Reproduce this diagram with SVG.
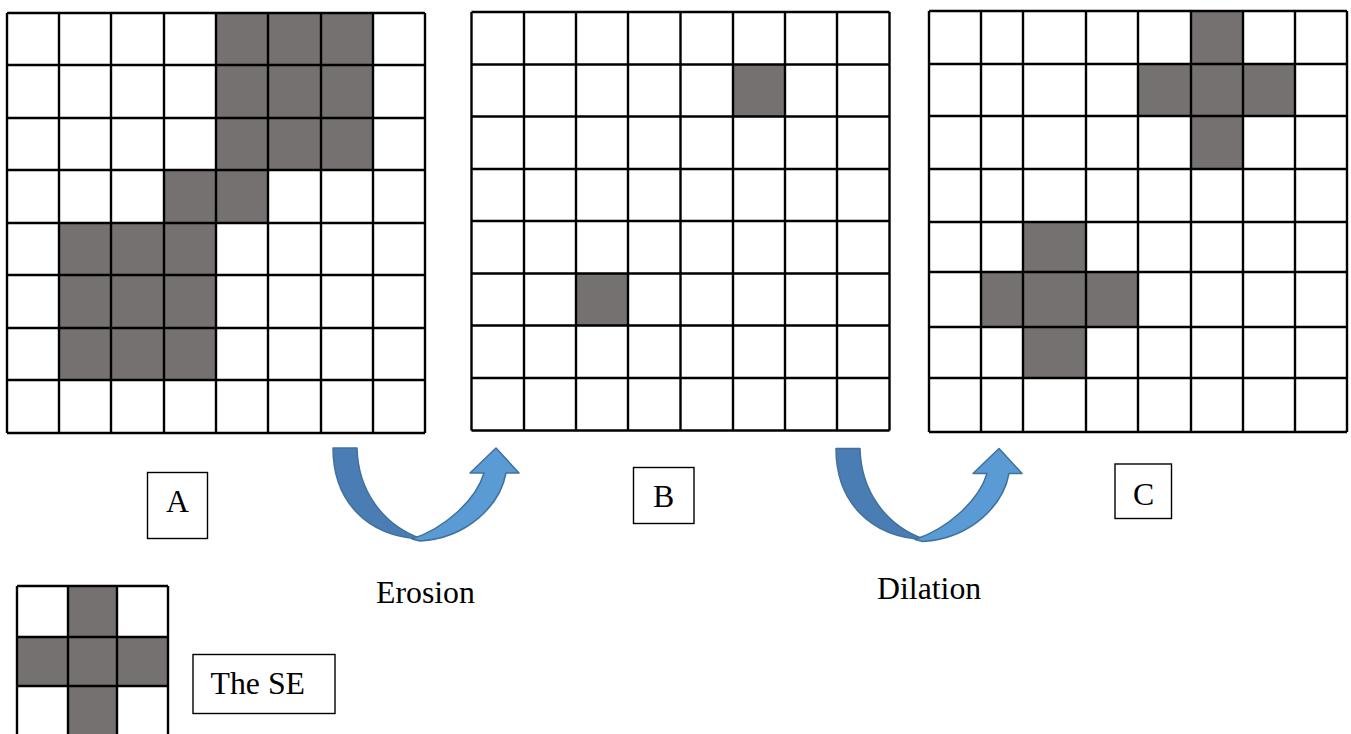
<svg xmlns="http://www.w3.org/2000/svg" width="1351" height="734" viewBox="0 0 1351 734">
<style>
.bg{fill:#ffffff}
.on{fill:#767171}
.grid{fill:none;stroke:#000;stroke-width:2.4}
.box{fill:#fff;stroke:#000;stroke-width:1.4}
.lbl{font-family:"Liberation Serif","Times New Roman",serif;font-size:31.8px;fill:#000}
.back{fill:#4A7DB4;stroke:#41719C;stroke-width:1.5;stroke-linejoin:round}
.front{fill:#5B9BD5;stroke:#41719C;stroke-width:1.5;stroke-linejoin:round}
</style>
<rect width="1351" height="734" fill="#fff"/>
<g id="gridA">
<rect class="bg" x="7" y="13" width="418" height="420"/>
<rect class="on" x="216" y="13" width="157" height="157"/>
<rect class="on" x="164" y="170" width="104" height="53"/>
<rect class="on" x="59" y="223" width="157" height="157"/>
<path class="grid" d="M7,13V433M59,13V433M111,13V433M164,13V433M216,13V433M268,13V433M321,13V433M373,13V433M425,13V433M7,13H425M7,65H425M7,118H425M7,170H425M7,223H425M7,275H425M7,328H425M7,380H425M7,433H425"/>
</g>
<g id="gridB">
<rect class="bg" x="471.5" y="12" width="418" height="418.5"/>
<rect class="on" x="733" y="64.5" width="52" height="52"/>
<rect class="on" x="576" y="273.5" width="52" height="52"/>
<path class="grid" d="M471.5,12V430.5M524,12V430.5M576,12V430.5M628,12V430.5M680.5,12V430.5M733,12V430.5M785,12V430.5M837,12V430.5M889.5,12V430.5M471.5,12H889.5M471.5,64.5H889.5M471.5,116.5H889.5M471.5,169H889.5M471.5,221H889.5M471.5,273.5H889.5M471.5,325.5H889.5M471.5,378H889.5M471.5,430.5H889.5"/>
</g>
<g id="gridC">
<rect class="bg" x="929" y="11" width="418" height="421"/>
<rect class="on" x="1191" y="11" width="52" height="158"/>
<rect class="on" x="1138" y="64" width="157" height="52"/>
<rect class="on" x="1023" y="222" width="63" height="156"/>
<rect class="on" x="981" y="272" width="157" height="55"/>
<path class="grid" d="M929,11V432M981,11V432M1023,11V432M1086,11V432M1138,11V432M1191,11V432M1243,11V432M1295,11V432M1347,11V432M929,11H1347M929,64H1347M929,116H1347M929,169H1347M929,222H1347M929,272H1347M929,327H1347M929,378H1347M929,432H1347"/>
</g>
<g id="gridSE">
<rect class="bg" x="17" y="586" width="151" height="150"/>
<rect class="on" x="68" y="586" width="49" height="150"/>
<rect class="on" x="17" y="637" width="151" height="49"/>
<path class="grid" d="M17,586V736M68,586V736M117,586V736M168,586V736M17,586H168M17,637H168M17,686H168"/>
</g>
<g id="connectors">
<g id="arrowErosion">
<path class="back" d="M333,448 L357,448 C358,490 382,525 422,539 C366,537 333,500 333,448 Z"/>
<path class="front" d="M412,539 C445,528 476,500 484,473 L470,473 L496,448 L519,473 L506,473 C500,505 468,538 420,541 Z"/>
</g>
<g id="arrowDilation" transform="translate(503,0.5)">
<path class="back" d="M333,448 L357,448 C358,490 382,525 422,539 C366,537 333,500 333,448 Z"/>
<path class="front" d="M412,539 C445,528 476,500 484,473 L470,473 L496,448 L519,473 L506,473 C500,505 468,538 420,541 Z"/>
</g>
</g>
<g id="labelA">
<rect class="box" x="147.5" y="472.5" width="60" height="66"/>
<text class="lbl" x="177.5" y="512" text-anchor="middle">A</text>
</g>
<g id="labelB">
<rect class="box" x="633.5" y="467.5" width="60.5" height="56"/>
<text class="lbl" x="663.5" y="507" text-anchor="middle">B</text>
</g>
<g id="labelC">
<rect class="box" x="1115" y="464" width="56.5" height="54.5"/>
<text class="lbl" x="1143.5" y="504.5" text-anchor="middle">C</text>
</g>
<g id="labelSE">
<rect class="box" x="193" y="654.5" width="142" height="59"/>
<text class="lbl" x="210.5" y="694">The SE</text>
</g>
<g id="labelErosion">
<text class="lbl" x="376" y="603">Erosion</text>
</g>
<g id="labelDilation">
<text class="lbl" x="877" y="599">Dilation</text>
</g>
</svg>
